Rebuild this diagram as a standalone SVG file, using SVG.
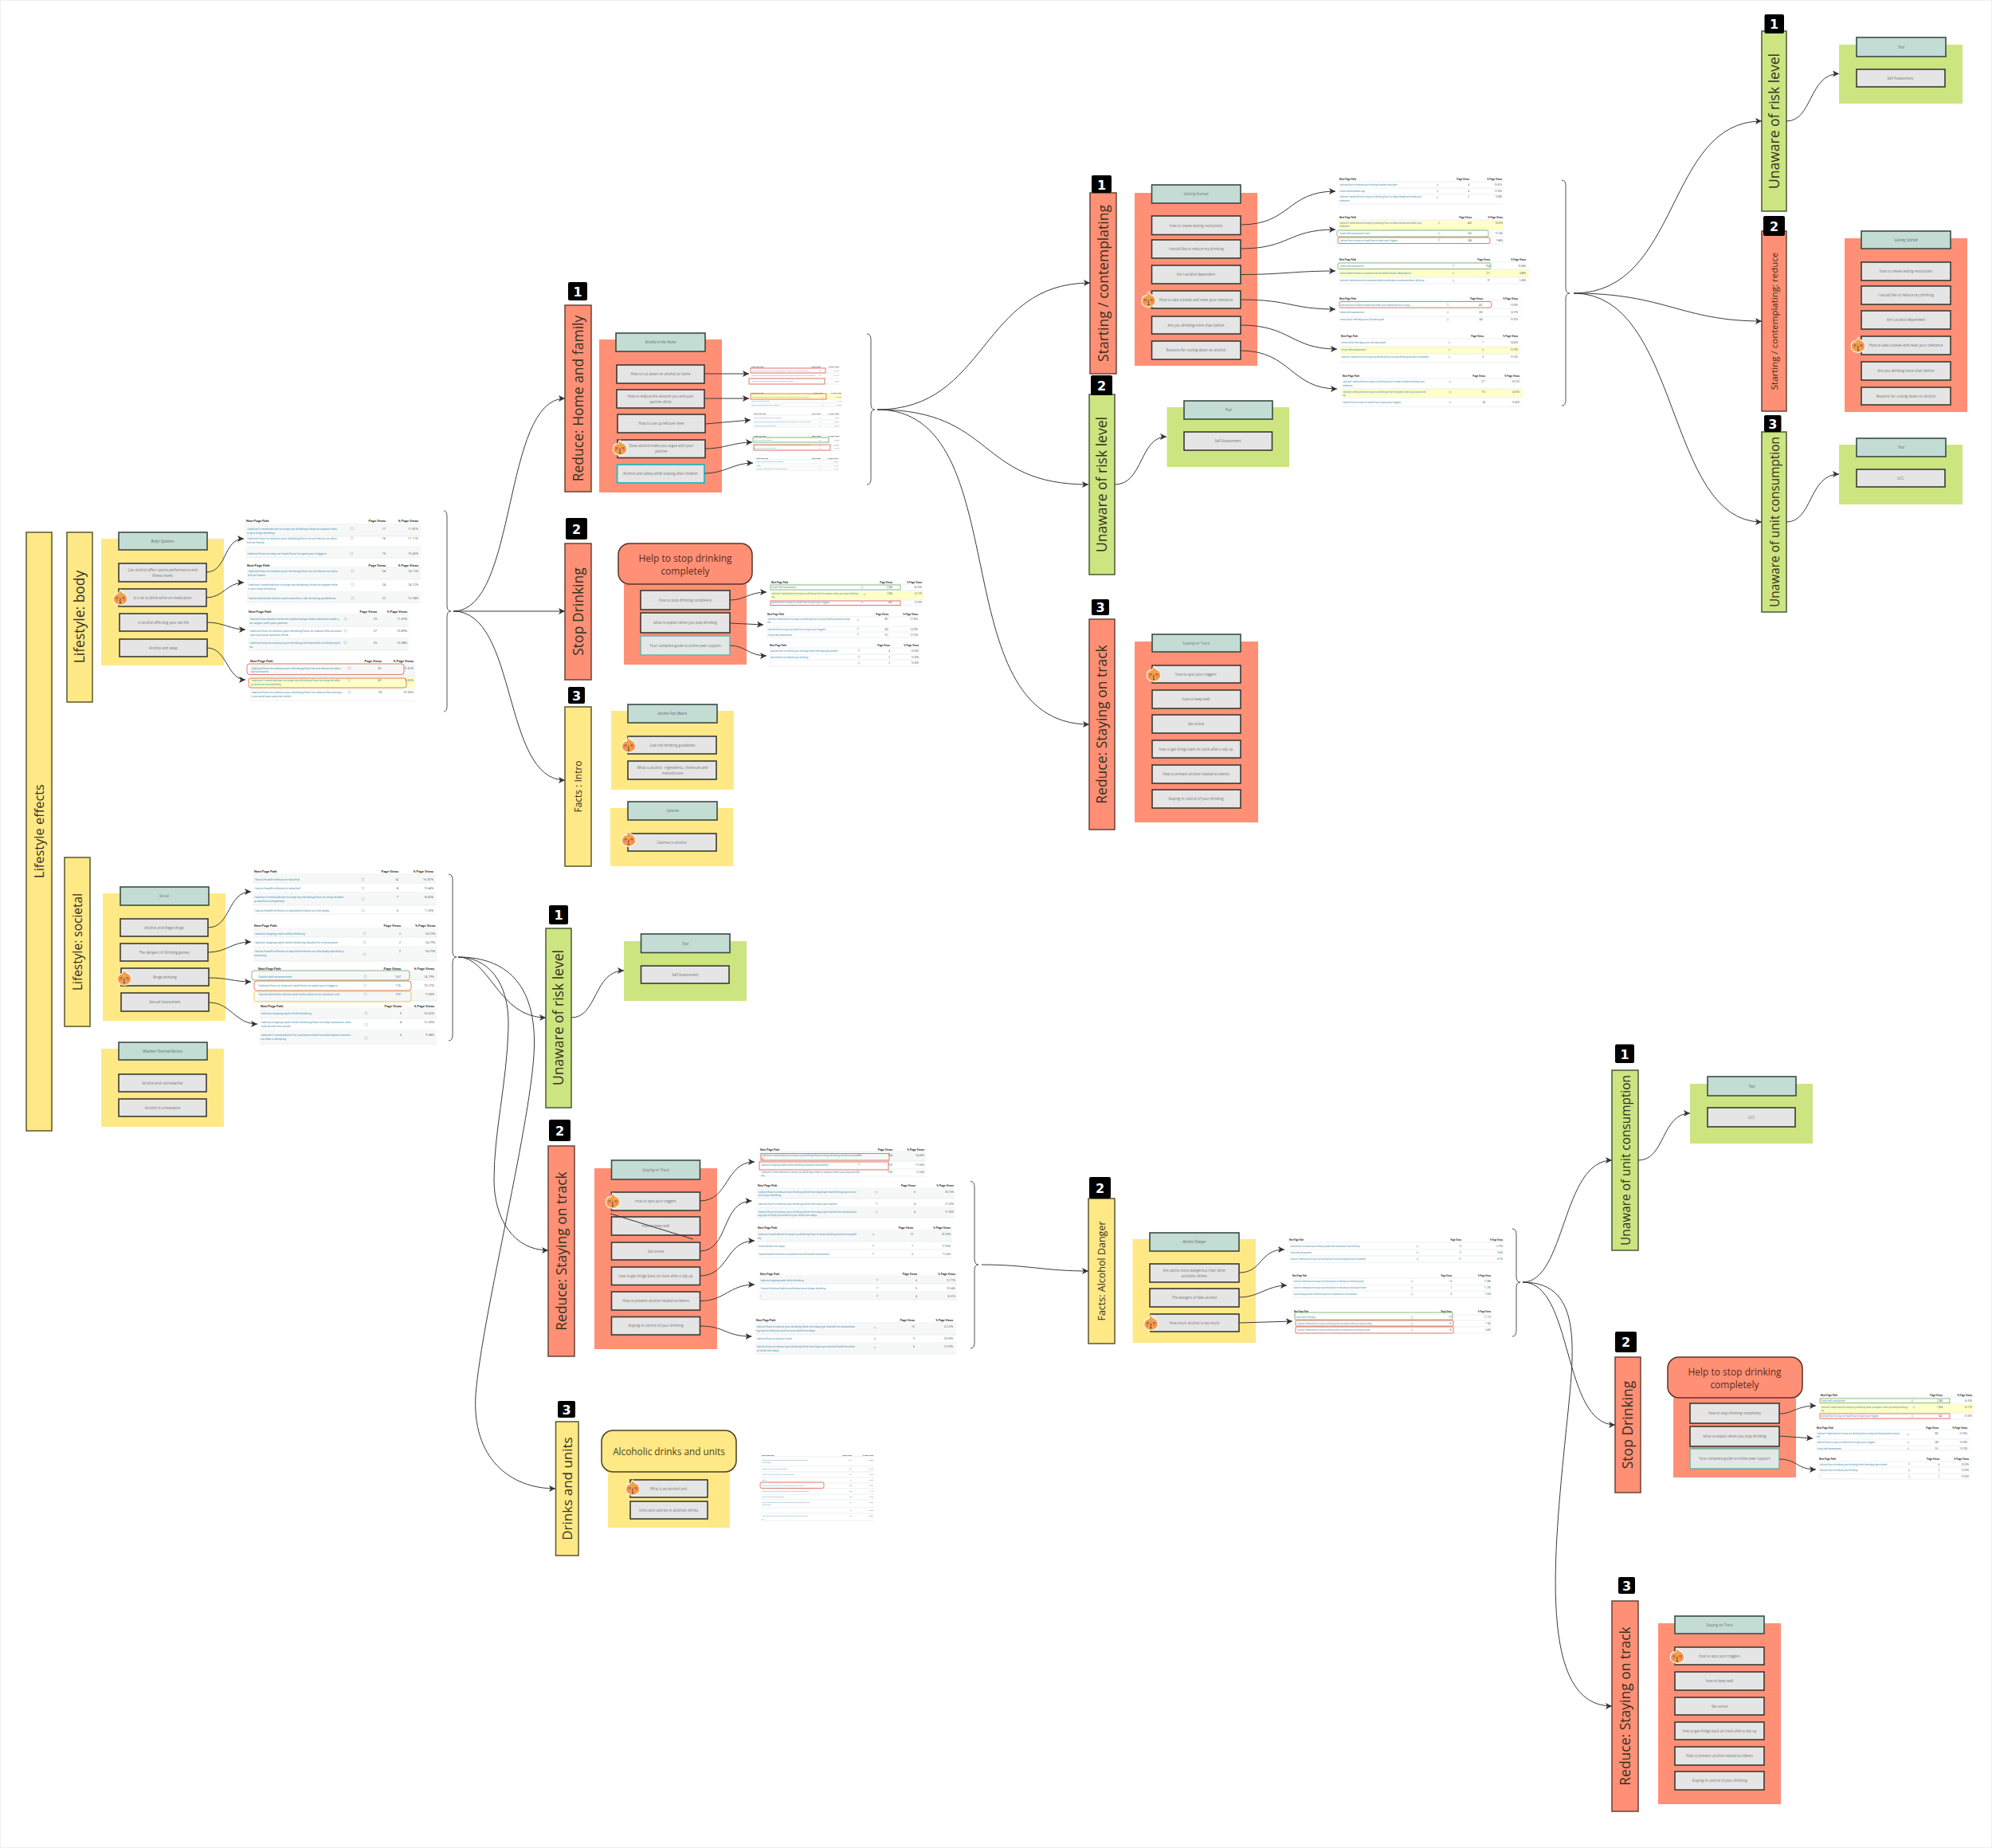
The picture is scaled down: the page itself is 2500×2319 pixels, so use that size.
<svg xmlns="http://www.w3.org/2000/svg" width="2500" height="2319" viewBox="0 0 2500 2319">
<style>
text{font-family:"Open Sans","Liberation Sans",sans-serif}
.sal{fill:#FF9076;stroke:#6a4236;stroke-width:1.5}
.yel{fill:#FFE986;stroke:#5b5530;stroke-width:1.5}
.grn{fill:#CCE581;stroke:#4a5a33;stroke-width:1.5}
.ps{fill:#FF9076}.py{fill:#FFE986}.pg{fill:#CCE581}
.hd{fill:#C3DDD5;stroke:#3c4a45;stroke-width:1.6}
.box{fill:#E5E5E5;stroke:#3d3a33;stroke-width:1.6}
.tbox{fill:#E2E8E6;stroke:#6fb5ab;stroke-width:1.6}
.cbox{fill:#E5E5E5;stroke:#3fb4bd;stroke-width:2}
.lab{font-size:17.5px;fill:#33301f;text-anchor:middle}
.u{font-size:16.4px}
.uc{font-size:15.4px}
.t{font-size:4.4px;fill:#777;text-anchor:middle}
.ti{font-size:4.4px;fill:#667;font-style:italic;text-anchor:middle}
.big{font-size:12px;text-anchor:middle;fill:#5c2a1c}
.bgd{fill:#000}
.bgt{font-family:"DejaVu Sans",sans-serif;font-weight:700;font-size:16px;fill:#fff;text-anchor:middle}
.c{fill:none;stroke:#3a3a3a;stroke-width:1;marker-end:url(#a)}
.br{fill:none;stroke:#555;stroke-width:1}
.th{font-family:Roboto,"Liberation Sans",sans-serif;font-weight:700;fill:#333}
.p{font-family:Roboto,"Liberation Sans",sans-serif;fill:#4a93b3}
.n{font-family:Roboto,"Liberation Sans",sans-serif;fill:#666;text-anchor:end}
.e{text-anchor:end}
.s42 text{font-size:4.1px}.s36 text{font-size:3.5px}.s30 text{font-size:3px}.s26 text{font-size:2.6px}.s22 text{font-size:2.2px}
.rule{fill:none;stroke:#dfe4e6;stroke-width:.6}
.z{fill:#f6f8f8}
.ic{fill:none;stroke:#aaa;stroke-width:.4}
.hr{fill:none;stroke:#e06c58;stroke-width:.9}
.hg{fill:none;stroke:#7cb56a;stroke-width:.9}
.hy{fill:none;stroke:#e8c53a;stroke-width:.9}
.yr{fill:#FFFFC8}
</style>
<defs>
<marker id="a" markerUnits="userSpaceOnUse" markerWidth="9" markerHeight="8" refX="8" refY="4" orient="auto"><path d="M0 0L8 4L0 8L2 4Z" fill="#333"/></marker>
<symbol id="f" viewBox="0 0 34 38"><path d="M17 0C19 6 23 7 26 9C31 13 34 18 34 23A17 15 0 0 1 0 23C0 17 3 13 7 10C9 11 11 10 13 8C14 6 16 3 17 0Z" fill="#fff"/><path d="M17 3C19 8 22 9 25 11C30 14 32 18 32 23A15 13 0 0 1 2 23C2 18 5 14 8 12C10 13 12 12 14 9C15 8 16 6 17 3Z" fill="#F5A04A"/><circle cx="9" cy="24" r="3.5" fill="#F27F63"/><circle cx="25" cy="24" r="3.5" fill="#F27F63"/><path d="M7 20h6M21 20h6M17 21v6h-2" fill="none" stroke="#333" stroke-width="1.4"/><ellipse cx="17" cy="31" rx="2" ry="1.5" fill="#333"/></symbol>
</defs>
<rect x="0" y="0" width="2500" height="2319" fill="#fff" stroke="#eeeeee" stroke-width="2"/>

<g id="lifestyle-effects"><rect class="yel" x="33" y="668" width="32" height="751"/><text class="lab u" transform="translate(49 1043) rotate(-90)" dy="6">Lifestyle effects</text></g>
<g id="lifestyle-body"><rect class="yel" x="84" y="668" width="32" height="213"/><text class="lab" transform="translate(100 774) rotate(-90)" dy="6">Lifestyle: body</text></g>
<g id="lifestyle-societal"><rect class="yel" x="81" y="1076" width="32" height="212"/><text class="lab" style="font-size:15.5px" transform="translate(97 1182) rotate(-90)" dy="6">Lifestyle: societal</text></g>

<g id="panel-body">
<rect class="py" x="127" y="676" width="154" height="159"/>
<rect class="hd" x="149" y="668" width="111" height="22"/><text class="ti" x="204" y="680.5">Body/ Systemic</text>
<rect class="box" x="149" y="707" width="110" height="23"/><text class="t" x="204" y="716.5">Can alcohol affect sports performance and</text><text class="t" x="204" y="723.5">fitness levels</text>
<rect class="box" x="149" y="739" width="110" height="22"/><text class="t" x="204" y="751.5">Is it ok to drink while on medication</text>
<rect class="box" x="150" y="770" width="110" height="22"/><text class="t" x="205" y="782.5">Is alcohol affecting your sex life</text>
<rect class="box" x="150" y="802" width="110" height="22"/><text class="t" x="205" y="814.5">Alcohol and sleep</text>
<use href="#f" x="141.5" y="739" width="19" height="21"/>
</g>
<g id="panel-social">
<rect class="py" x="129" y="1121" width="154" height="160"/>
<rect class="hd" x="151" y="1113" width="111" height="23"/><text class="t" x="206" y="1126">Social</text>
<rect class="box" x="151" y="1153" width="110" height="22"/><text class="t" x="206" y="1165.5">Alcohol and illegal drugs</text>
<rect class="box" x="151" y="1184" width="110" height="22"/><text class="t" x="206" y="1196.5">The dangers of drinking games</text>
<rect class="box" x="152" y="1215" width="110" height="22"/><text class="t" x="207" y="1227.5">Binge drinking</text>
<rect class="box" x="152" y="1246" width="110" height="23"/><text class="t" x="207" y="1259">Sexual harassment</text>
<use href="#f" x="146.5" y="1216" width="19" height="21"/>
</g>
<g id="panel-weather">
<rect class="py" x="127" y="1316" width="154" height="98"/>
<rect class="hd" x="149" y="1308" width="111" height="22"/><text class="ti" x="204" y="1320.5">Weather/ External Factors</text>
<rect class="box" x="149" y="1348" width="110" height="22"/><text class="t" x="204" y="1360.5">Alcohol and cold weather</text>
<rect class="box" x="149" y="1379" width="110" height="22"/><text class="t" x="204" y="1391.5">Alcohol in a heatwave</text>
</g>

<g id="tables-body" class="s42">
<path class="z" d="M308 659H528V673H308ZM308 687H528V700H308ZM310 713H528V727H310ZM310 744H528V756H310ZM312 772H513V786H312ZM312 802H513V816H312ZM314 834H521V849H314Z"/>
<path class="rule" d="M308 658H528M308 673H528M308 686H528M308 700H528M310 712H528M310 727H528M310 743H528M310 756H528M312 771H513M312 786H513M312 801H513M312 816H513M314 833H521M314 849H521M314 865H521M314 879H521"/>
<rect class="yr" x="314" y="850" width="207" height="14"/>
<path class="ic" d="M440 662h3v3h-3zM440 674h3v3h-3zM440 693h3v3h-3zM441 715h3v3h-3zM441 732h3v3h-3zM441 749h3v3h-3zM432 775h3v3h-3zM432 790h3v3h-3zM432 805h3v3h-3zM437 837h3v3h-3zM437 852h3v3h-3zM437 867h3v3h-3z"/>
<text class="th" x="309" y="655">Next Page Path</text><text class="th e" x="484" y="655">Page Views</text><text class="th e" x="525" y="655">% Page Views</text>
<text class="p" x="310" y="665">/advice/i-need-advice-to-stop-my-drinking/what-to-expect-whe</text><text class="p" x="310" y="669.5">n-you-stop-drinking</text><text class="n" x="484" y="665">17</text><text class="n" x="525" y="665">11.81%</text>
<text class="p" x="310" y="677">/advice/how-to-reduce-your-drinking/how-to-cut-down-on-alco</text><text class="p" x="310" y="681.5">hol-at-home</text><text class="n" x="484" y="677">16</text><text class="n" x="525" y="677">11.11%</text>
<text class="p" x="310" y="696">/advice/how-to-stay-on-track/how-to-spot-your-triggers</text><text class="n" x="484" y="696">15</text><text class="n" x="525" y="696">10.42%</text>
<text class="th" x="310" y="710.5">Next Page Path</text><text class="th e" x="484" y="710.5">Page Views</text><text class="th e" x="525" y="710.5">% Page Views</text>
<text class="p" x="311" y="718">/advice/how-to-reduce-your-drinking/how-to-cut-down-on-alco</text><text class="p" x="311" y="722.5">hol-at-home</text><text class="n" x="484" y="718">24</text><text class="n" x="525" y="718">14.12%</text>
<text class="p" x="311" y="735">/advice/i-need-advice-to-stop-my-drinking/what-to-expect-whe</text><text class="p" x="311" y="739.5">n-you-stop-drinking</text><text class="n" x="484" y="735">24</text><text class="n" x="525" y="735">14.12%</text>
<text class="p" x="311" y="752">/facts/alcoholic-drinks-and-units/low-risk-drinking-guidelines</text><text class="n" x="484" y="752">22</text><text class="n" x="525" y="752">12.94%</text>
<text class="th" x="312" y="769">Next Page Path</text><text class="th e" x="473" y="769">Page Views</text><text class="th e" x="511" y="769">% Page Views</text>
<text class="p" x="313" y="778">/facts/how-alcohol-affects-relationships/does-alcohol-make-y</text><text class="p" x="313" y="782.5">ou-argue-with-your-partner</text><text class="n" x="473" y="778">29</text><text class="n" x="511" y="778">11.69%</text>
<text class="p" x="313" y="793">/advice/how-to-reduce-your-drinking/how-to-reduce-the-amount</text><text class="p" x="313" y="797.5">-you-and-your-partner-drink</text><text class="n" x="473" y="793">27</text><text class="n" x="511" y="793">10.89%</text>
<text class="p" x="313" y="808">/advice/how-to-reduce-your-drinking/the-benefits-of-drinking-le</text><text class="p" x="313" y="812.5">ss</text><text class="n" x="473" y="808">25</text><text class="n" x="511" y="808">10.08%</text>
<text class="th" x="314" y="831">Next Page Path</text><text class="th e" x="479" y="831">Page Views</text><text class="th e" x="519" y="831">% Page Views</text>
<text class="p" x="315" y="839.5">/advice/how-to-reduce-your-drinking/how-to-cut-down-on-alco</text><text class="p" x="315" y="844">hol-at-home</text><text class="n" x="479" y="839.5">81</text><text class="n" x="519" y="839.5">9.52%</text>
<text class="p" x="315" y="855">/advice/i-need-advice-to-stop-my-drinking/how-to-stop-drinkin</text><text class="p" x="315" y="859.5">g-alcohol-completely</text><text class="n" x="479" y="855">81</text><text class="n" x="519" y="855">9.52%</text>
<text class="p" x="315" y="870">/advice/how-to-reduce-your-drinking/how-to-reduce-the-amoun</text><text class="p" x="315" y="874.5">t-you-and-your-partner-drink</text><text class="n" x="479" y="870">78</text><text class="n" x="519" y="870">10.96%</text>
<rect class="hr" x="310" y="833" width="197" height="13.5" rx="3"/><rect class="hr" x="312" y="851" width="198" height="12" rx="3"/>
</g>

<g id="tables-social" class="s42">
<path class="z" d="M317 1098H547V1108H317ZM317 1121H547V1136H317ZM318 1166H549V1176H318ZM318 1189H549V1206H318ZM323 1219H549V1230H323ZM323 1244H549V1256H323ZM326 1266H548V1278H326ZM326 1294H548V1310H326Z"/>
<path class="rule" d="M317 1097H547M317 1108H547M317 1120H547M317 1136H547M317 1147H547M318 1165H549M318 1176H549M318 1188H549M318 1206H549M323 1218H549M323 1230H549M323 1243H549M323 1256H549M326 1265H548M326 1278H548M326 1293H548M326 1310H548"/>
<path class="ic" d="M454 1102h3v3h-3zM454 1113h3v3h-3zM454 1127h3v3h-3zM454 1141h3v3h-3zM456 1170h3v3h-3zM456 1181h3v3h-3zM456 1196h3v3h-3zM457 1224h3v3h-3zM457 1235h3v3h-3zM457 1246h3v3h-3zM458 1270h3v3h-3zM458 1284h3v3h-3zM458 1301h3v3h-3z"/>
<text class="th" x="319" y="1095">Next Page Path</text><text class="th e" x="500" y="1095">Page Views</text><text class="th e" x="544" y="1095">% Page Views</text>
<text class="p" x="319" y="1104.5">/facts/health-effects-of-alcohol</text><text class="n" x="500" y="1104.5">14</text><text class="n" x="544" y="1104.5">16.87%</text>
<text class="p" x="319" y="1115.5">/facts/health-effects-of-alcohol/</text><text class="n" x="500" y="1115.5">8</text><text class="n" x="544" y="1115.5">9.64%</text>
<text class="p" x="319" y="1127">/advice/i-need-advice-to-stop-my-drinking/how-to-stop-drinkin</text><text class="p" x="319" y="1132">g-alcohol-completely</text><text class="n" x="500" y="1127">7</text><text class="n" x="544" y="1127">8.43%</text>
<text class="p" x="319" y="1143.5">/facts/health-effects-of-alcohol/effects-on-the-body</text><text class="n" x="500" y="1143.5">6</text><text class="n" x="544" y="1143.5">7.23%</text>
<text class="th" x="319" y="1163">Next Page Path</text><text class="th e" x="503" y="1163">Page Views</text><text class="th e" x="546.5" y="1163">% Page Views</text>
<text class="p" x="319" y="1172.5">/advice/staying-safe-while-drinking</text><text class="n" x="503" y="1172.5">2</text><text class="n" x="546.5" y="1172.5">14.29%</text>
<text class="p" x="319" y="1183.5">/advice/staying-safe-while-drinking/alcohol-in-a-heatwave</text><text class="n" x="503" y="1183.5">2</text><text class="n" x="546.5" y="1183.5">14.29%</text>
<text class="p" x="319" y="1195">/facts/health-effects-of-alcohol/effects-on-the-body/alcohol-p</text><text class="p" x="319" y="1200">oisoning</text><text class="n" x="503" y="1195">2</text><text class="n" x="546.5" y="1195">14.29%</text>
<text class="th" x="324" y="1217">Next Page Path</text><text class="th e" x="503" y="1217">Page Views</text><text class="th e" x="545" y="1217">% Page Views</text>
<text class="p" x="324" y="1226.5">/tools/self-assessment</text><text class="n" x="503" y="1226.5">167</text><text class="n" x="545" y="1226.5">14.79%</text>
<text class="p" x="324" y="1237.5">/advice/how-to-stay-on-track/how-to-spot-your-triggers</text><text class="n" x="503" y="1237.5">116</text><text class="n" x="545" y="1237.5">10.27%</text>
<text class="p" x="324" y="1249">/facts/alcoholic-drinks-and-units/what-is-an-alcohol-unit</text><text class="n" x="503" y="1249">102</text><text class="n" x="545" y="1249">9.03%</text>
<rect class="hg" x="316" y="1218" width="198" height="12" rx="3"/><rect class="hr" x="319" y="1231" width="197" height="12" rx="3"/><rect class="hy" x="319" y="1244" width="197" height="13" rx="3"/>
<text class="th" x="327" y="1264">Next Page Path</text><text class="th e" x="504" y="1264">Page Views</text><text class="th e" x="545" y="1264">% Page Views</text>
<text class="p" x="327" y="1273">/advice/staying-safe-while-drinking</text><text class="n" x="504" y="1273">5</text><text class="n" x="545" y="1273">15.62%</text>
<text class="p" x="327" y="1284">/advice/staying-safe-while-drinking/how-to-help-someone-who</text><text class="p" x="327" y="1289">-has-drunk-too-much</text><text class="n" x="504" y="1284">4</text><text class="n" x="545" y="1284">12.50%</text>
<text class="p" x="327" y="1300">/advice/i-need-advice-for-someone-else/worried-about-someo</text><text class="p" x="327" y="1305">ne-else-s-drinking</text><text class="n" x="504" y="1300">3</text><text class="n" x="545" y="1300">9.38%</text>
</g>

<g id="reduce-home"><rect class="sal" x="709" y="383" width="33" height="234"/><text class="lab" transform="translate(725.5 500) rotate(-90)" dy="6">Reduce: Home and family</text><rect class="bgd" x="713" y="354" width="24" height="23" rx="2"/><text class="bgt" x="725" y="371.5">1</text></g>
<g id="panel-home">
<rect class="ps" x="752" y="426" width="154" height="192"/>
<rect class="hd" x="773" y="418" width="112" height="23"/><text class="ti" x="829" y="431">Alcohol in the Home</text>
<rect class="box" x="774" y="458" width="110" height="23"/><text class="t" x="829" y="471">How to cut down on alcohol at home</text>
<rect class="box" x="774" y="489" width="110" height="23"/><text class="t" x="829" y="498.5">How to reduce the amount you and your</text><text class="t" x="829" y="505.5">partner drink</text>
<rect class="box" x="775" y="520" width="110" height="23"/><text class="t" x="830" y="533">How to use up leftover wine</text>
<rect class="box" x="775" y="552" width="110" height="22.5"/><text class="t" x="830" y="561">Does alcohol make you argue with your</text><text class="t" x="830" y="568">partner</text>
<rect class="cbox" x="774.5" y="583" width="109.5" height="23"/><text class="t" x="829" y="596">Alcohol and safety while looking after children</text>
<use href="#f" x="768.5" y="551" width="19" height="21"/>
</g>
<g id="tables-home" class="s22">
<path class="rule" d="M942 462H1053M942 468H1053M942 475H1053M942 482H1053M942 495H1056M942 501H1056M942 506H1056M942 510H1056M945 521H1053M945 527H1053M945 532H1053M945 536H1053M945 549H1053M945 555H1053M945 560H1053M945 565H1053M948 577H1052M948 582H1052M948 586H1052M948 590H1052"/>
<rect class="yr" x="942" y="494" width="114" height="7"/>
<text class="th" x="943" y="461">Next Page Path</text><text class="th e" x="1030" y="461">Page Views</text><text class="th e" x="1053" y="461">% Page Views</text>
<text class="p" x="943" y="466">/advice/how-to-reduce-your-drinking/how-to-cut-down-on-alcohol-at-home</text><text class="n" x="1030" y="466">26</text><text class="n" x="1053" y="466">14.61%</text>
<text class="p" x="943" y="472">/advice/i-need-advice-to-stop-my-drinking/how-to-stop-drinking-alcohol-completely</text><text class="n" x="1030" y="472">18</text><text class="n" x="1053" y="472">10.11%</text>
<text class="p" x="943" y="479">/advice/how-to-stay-on-track/how-to-spot-your-triggers</text><text class="n" x="1030" y="479">11</text><text class="n" x="1053" y="479">6.18%</text>
<text class="th" x="943" y="494">Next Page Path</text><text class="th e" x="1033" y="494">Page Views</text><text class="th e" x="1056" y="494">% Page Views</text>
<text class="p" x="943" y="498.5">/advice/how-to-reduce-your-drinking/how-to-cut-down-on-alcohol-at-home</text><text class="n" x="1033" y="498.5">16</text><text class="n" x="1056" y="498.5">16.33%</text>
<text class="p" x="943" y="504">/tools/self-assessment</text><text class="n" x="1033" y="504">7</text><text class="n" x="1056" y="504">7.14%</text>
<text class="p" x="943" y="509">/advice/how-to-reduce-your-drinking</text><text class="n" x="1033" y="509">5</text><text class="n" x="1056" y="509">5.10%</text>
<text class="th" x="946" y="520">Next Page Path</text><text class="th e" x="1030" y="520">Page Views</text><text class="th e" x="1053" y="520">% Page Views</text>
<text class="p" x="946" y="525">/advice/staying-safe-while-drinking</text><text class="n" x="1030" y="525">3</text><text class="n" x="1053" y="525">7.69%</text>
<text class="p" x="946" y="530">/advice/how-to-reduce-your-drinking/how-to-cut-down-on-alcohol-at-home</text><text class="n" x="1030" y="530">3</text><text class="n" x="1053" y="530">7.69%</text>
<text class="p" x="946" y="535">/advice/how-to-stay-on-track</text><text class="n" x="1030" y="535">2</text><text class="n" x="1053" y="535">5.13%</text>
<text class="th" x="946" y="548">Next Page Path</text><text class="th e" x="1030" y="548">Page Views</text><text class="th e" x="1053" y="548">% Page Views</text>
<text class="p" x="946" y="553">/tools/self-assessment</text><text class="n" x="1030" y="553">40</text><text class="n" x="1053" y="553">14.08%</text>
<text class="p" x="946" y="559">/advice/how-to-reduce-your-drinking/how-to-cut-down-on-alcohol-at-home</text><text class="n" x="1030" y="559">30</text><text class="n" x="1053" y="559">10.56%</text>
<text class="p" x="946" y="563">/advice/how-to-stay-on-track</text><text class="n" x="1030" y="563">18</text><text class="n" x="1053" y="563">6.34%</text>
<text class="th" x="949" y="576">Next Page Path</text><text class="th e" x="1030" y="576">Page Views</text><text class="th e" x="1052" y="576">% Page Views</text>
<text class="p" x="949" y="580">/advice/staying-safe-while-drinking</text><text class="n" x="1030" y="580">4</text><text class="n" x="1052" y="580">9.52%</text>
<text class="p" x="949" y="585">/facts</text><text class="n" x="1030" y="585">3</text><text class="n" x="1052" y="585">7.14%</text>
<text class="p" x="949" y="589">/advice/i-need-advice-for-someone-else</text><text class="n" x="1030" y="589">3</text><text class="n" x="1052" y="589">7.14%</text>
<rect class="hr" x="942" y="462" width="94" height="6"/><rect class="hr" x="940" y="475" width="95" height="7"/><rect class="hr" x="942" y="494" width="95" height="7"/><rect class="hg" x="945" y="549" width="95" height="6"/><rect class="hr" x="946" y="558" width="96" height="7"/>
</g>

<g id="stop-drinking-1"><rect class="sal" x="709" y="682" width="33" height="171"/><text class="lab" transform="translate(725.5 767.5) rotate(-90)" dy="6">Stop Drinking</text><rect class="bgd" x="710" y="650" width="27" height="27" rx="2"/><text class="bgt" x="723.5" y="669.5">2</text></g>
<g id="panel-stop-1">
<rect class="ps" x="783" y="733" width="154" height="101"/>
<rect x="776" y="682" width="168" height="51" rx="14" fill="#FF9076" stroke="#5c3226" stroke-width="1.5"/><text class="big" x="860" y="704.5">Help to stop drinking</text><text class="big" x="860" y="721">completely</text>
<rect class="box" x="804" y="741" width="112" height="24"/><text class="t" x="860" y="754.5">how to stop drinking completely</text>
<rect class="box" x="804" y="769" width="112" height="25"/><text class="t" x="860" y="783">what to expect when you stop drinking</text>
<rect class="tbox" x="804" y="798" width="112" height="24"/><text class="t" x="860" y="811.5">Your complete guide to online peer support</text>
</g>
<g id="tables-stop-1" class="s30">
<rect class="yr" x="967" y="742" width="192" height="10"/>
<path class="rule" d="M967 733H1159M967 741H1159M967 753H1159M967 760H1159M962 774H1153M962 786H1153M962 793H1153M962 800H1153M965 813H1155M965 821H1155M965 828H1155M965 836H1155"/>
<path class="ic" d="M1081 736h2v2h-2zM1084 745h2v2h-2zM1081 755h2v2h-2zM1076 777h2v2h-2zM1076 788h2v2h-2zM1076 795h2v2h-2zM1077 815h2v2h-2zM1077 823h2v2h-2zM1077 831h2v2h-2z"/>
<text class="th" x="968" y="731.5">Next Page Path</text><text class="th e" x="1120" y="731.5">Page Views</text><text class="th e" x="1157" y="731.5">% Page Views</text>
<text class="p" x="968" y="738">/tools/self-assessment</text><text class="n" x="1120" y="738">2,284</text><text class="n" x="1157" y="738">36.35%</text>
<text class="p" x="968" y="746">/advice/i-need-advice-to-stop-my-drinking/what-to-expect-when-you-stop-drinking/</text><text class="p" x="968" y="750">ing</text><text class="n" x="1120" y="746">1,094</text><text class="n" x="1157" y="746">16.17%</text>
<text class="p" x="968" y="757">/advice/how-to-stay-on-track/how-to-spot-your-triggers</text><text class="n" x="1120" y="757">642</text><text class="n" x="1157" y="757">10.30%</text>
<text class="th" x="963" y="772">Next Page Path</text><text class="th e" x="1115" y="772">Page Views</text><text class="th e" x="1152" y="772">% Page Views</text>
<text class="p" x="963" y="778">/advice/i-need-advice-to-stop-my-drinking/how-to-stop-drinking-alcohol-compl</text><text class="p" x="963" y="782">ete</text><text class="n" x="1115" y="778">381</text><text class="n" x="1152" y="778">22.96%</text>
<text class="p" x="963" y="790.5">/advice/how-to-stay-on-track/how-to-spot-your-triggers</text><text class="n" x="1115" y="790.5">240</text><text class="n" x="1152" y="790.5">14.78%</text>
<text class="p" x="963" y="798">/tools/self-assessment</text><text class="n" x="1115" y="798">161</text><text class="n" x="1152" y="798">10.10%</text>
<text class="th" x="966" y="811">Next Page Path</text><text class="th e" x="1117" y="811">Page Views</text><text class="th e" x="1153" y="811">% Page Views</text>
<text class="p" x="966" y="818">/advice/how-to-reduce-your-drinking/drink-free-days/get-started</text><text class="n" x="1117" y="818">4</text><text class="n" x="1153" y="818">20.00%</text>
<text class="p" x="966" y="825.5">/advice/how-to-reduce-your-drinking</text><text class="n" x="1117" y="825.5">3</text><text class="n" x="1153" y="825.5">15.00%</text>
<text class="p" x="966" y="833">/</text><text class="n" x="1117" y="833">2</text><text class="n" x="1153" y="833">10.00%</text>
<rect class="hg" x="967" y="734" width="163" height="6"/><rect class="hr" x="967" y="754" width="163" height="5.5"/>
</g>

<g id="facts-intro"><rect class="yel" x="709" y="887" width="33" height="200"/><text class="lab" style="font-size:12px" transform="translate(725.5 987) rotate(-90)" dy="4.5">Facts : Intro</text><rect class="bgd" x="713" y="862" width="21" height="21" rx="2"/><text class="bgt" x="723.5" y="878.5">3</text></g>
<g id="panel-facts-basics">
<rect class="py" x="767" y="892" width="154" height="99"/>
<rect class="hd" x="788" y="884" width="112" height="23"/><text class="ti" x="844" y="897">Alcohol Fact Basics</text>
<rect class="box" x="788" y="924" width="111" height="22"/><text class="t" x="844" y="936.5">Low risk drinking guidelines</text>
<rect class="box" x="788" y="955" width="111" height="23"/><text class="t" x="844" y="964.5">What is alcohol - ingredients, chemicals and</text><text class="t" x="844" y="971.5">manufacture</text>
<use href="#f" x="779.5" y="924" width="19" height="21"/>
</g>
<g id="panel-calories">
<rect class="py" x="766" y="1014" width="154" height="73"/>
<rect class="hd" x="788" y="1006" width="112" height="23"/><text class="ti" x="844" y="1019">Calories</text>
<rect class="box" x="788" y="1046" width="111" height="22"/><text class="t" x="843" y="1058.5">Calories in alcohol</text>
<use href="#f" x="779.5" y="1042" width="19" height="21"/>
</g>

<g id="starting-1"><rect class="sal" x="1368" y="242" width="33" height="227"/><text class="lab" transform="translate(1384.5 355.5) rotate(-90)" dy="6">Starting / contemplating</text><rect class="bgd" x="1370" y="220" width="25" height="22" rx="2"/><text class="bgt" x="1382.5" y="237.5">1</text></g>
<g id="panel-getting-started">
<rect class="ps" x="1424" y="242" width="154" height="217"/>
<rect class="hd" x="1445.5" y="232" width="111.5" height="23"/><text class="t" x="1501" y="245">Getting Started</text>
<rect class="box" x="1445.5" y="271" width="111.5" height="23.5"/><text class="t" x="1501" y="284.5">how to create lasting resolutions</text>
<rect class="box" x="1445.5" y="301" width="111.5" height="23"/><text class="t" x="1501" y="314">I would like to reduce my drinking</text>
<rect class="box" x="1445.5" y="333" width="111.5" height="23"/><text class="t" x="1501" y="346">Am I alcohol dependent</text>
<rect class="box" x="1445.5" y="365" width="111.5" height="22"/><text class="t" x="1501" y="377.5">How to take a break and reset your tolerance</text>
<rect class="box" x="1445.5" y="397" width="111.5" height="22"/><text class="t" x="1501" y="409.5">Are you drinking more than before</text>
<rect class="box" x="1445.5" y="428" width="111.5" height="23"/><text class="t" x="1501" y="441">Reasons for cutting down on alcohol</text>
<use href="#f" x="1432" y="365" width="19" height="21"/>
</g>
<g id="tables-starting" class="s30">
<rect class="yr" x="1680" y="277" width="207" height="11"/><rect class="yr" x="1680" y="338.5" width="239" height="9"/><rect class="yr" x="1682" y="435" width="226" height="9"/><rect class="yr" x="1684" y="488" width="227" height="10"/>
<path class="rule" d="M1680 228H1887M1680 236H1887M1680 244H1887M1680 256H1887M1680 276H1887M1680 289H1887M1680 297H1887M1680 306H1887M1680 329H1919M1680 338H1919M1680 348H1919M1680 356H1919M1680 377H1909M1680 387H1909M1680 397H1909M1682 425H1908M1682 435H1908M1682 444H1908M1682 455H1908M1684 475H1911M1684 488H1911M1684 499H1911M1684 510H1911"/>
<path class="ic" d="M1803 231h2v2h-2zM1803 239h2v2h-2zM1803 247h2v2h-2zM1805 279h2v2h-2zM1805 292h2v2h-2zM1805 300h2v2h-2zM1823 332h2v2h-2zM1823 342h2v2h-2zM1823 351h2v2h-2zM1816 381h2v2h-2zM1816 391h2v2h-2zM1816 400h2v2h-2zM1818 429h2v2h-2zM1818 438h2v2h-2zM1818 447h2v2h-2zM1819 478h2v2h-2zM1819 491h2v2h-2zM1819 504h2v2h-2z"/>
<text class="th" x="1681" y="226">Next Page Path</text><text class="th e" x="1844" y="226">Page Views</text><text class="th e" x="1885" y="226">% Page Views</text>
<text class="p" x="1681" y="233">/advice/how-to-reduce-your-drinking/tracker-calculator</text><text class="n" x="1844" y="233">4</text><text class="n" x="1885" y="233">25.81%</text>
<text class="p" x="1681" y="241">/tools/drinkchecker-app</text><text class="n" x="1844" y="241">4</text><text class="n" x="1885" y="241">12.90%</text>
<text class="p" x="1681" y="248">/advice/i-need-advice-to-stop-my-drinking/how-to-take-a-break-and-reset-your-</text><text class="p" x="1681" y="252.5">tolerance</text><text class="n" x="1844" y="248">3</text><text class="n" x="1885" y="248">9.68%</text>
<text class="th" x="1681" y="274">Next Page Path</text><text class="th e" x="1847" y="274">Page Views</text><text class="th e" x="1886" y="274">% Page Views</text>
<text class="p" x="1681" y="280.5">/advice/i-need-advice-to-stop-my-drinking/how-to-take-a-break-and-reset-your-</text><text class="p" x="1681" y="285">tolerance</text><text class="n" x="1847" y="280.5">465</text><text class="n" x="1886" y="280.5">18.09%</text>
<text class="p" x="1681" y="294">/tools/self-assessment/user</text><text class="n" x="1847" y="294">265</text><text class="n" x="1886" y="294">10.14%</text>
<text class="p" x="1681" y="302.5">/advice/how-to-stay-on-track/how-to-spot-your-triggers</text><text class="n" x="1847" y="302.5">248</text><text class="n" x="1886" y="302.5">9.88%</text>
<rect class="hg" x="1678" y="289" width="190" height="8" rx="2"/><rect class="hr" x="1679" y="298" width="191" height="7.5" rx="2"/>
<g class="s36"><text class="th" x="1681" y="327">Next Page Path</text><text class="th e" x="1870" y="327">Page Views</text><text class="th e" x="1915" y="327">% Page Views</text>
<text class="p" x="1681" y="334.5">/tools/self-assessment</text><text class="n" x="1870" y="334.5">994</text><text class="n" x="1915" y="334.5">30.04%</text>
<text class="p" x="1681" y="344">/facts/health-effects-of-alcohol/mental-health/alcohol-dependence</text><text class="n" x="1870" y="344">121</text><text class="n" x="1915" y="344">4.88%</text>
<text class="p" x="1681" y="353">/advice/i-need-advice-for-someone-else/worried-about-someone-else-s-drinking</text><text class="n" x="1870" y="353">57</text><text class="n" x="1915" y="353">5.58%</text></g>
<rect class="hg" x="1679" y="330" width="192" height="7.5" rx="2"/>
<text class="th" x="1681" y="375.5">Next Page Path</text><text class="th e" x="1861" y="375.5">Page Views</text><text class="th e" x="1905" y="375.5">% Page Views</text>
<text class="p" x="1682" y="383.5">/advice/how-to-take-a-break-and-reset-your-tolerance/how-to-stay</text><text class="n" x="1861" y="383.5">451</text><text class="n" x="1905" y="383.5">19.06%</text>
<text class="p" x="1681" y="393">/tools/self-assessment</text><text class="n" x="1861" y="393">350</text><text class="n" x="1905" y="393">14.73%</text>
<text class="p" x="1681" y="402">/news/drink-free-days-your-ultimate-guide</text><text class="n" x="1861" y="402">245</text><text class="n" x="1905" y="402">10.92%</text>
<rect class="hr" x="1681" y="378.5" width="191" height="7.5" rx="2"/>
<text class="th" x="1683" y="423">Next Page Path</text><text class="th e" x="1862" y="423">Page Views</text><text class="th e" x="1905" y="423">% Page Views</text>
<text class="p" x="1683" y="431">/news/drink-free-days-your-ultimate-guide</text><text class="n" x="1862" y="431">7</text><text class="n" x="1905" y="431">18.42%</text>
<text class="p" x="1683" y="440">/tools/self-assessment</text><text class="n" x="1862" y="440">6</text><text class="n" x="1905" y="440">15.79%</text>
<text class="p" x="1683" y="449">/advice/i-need-advice-to-stop-my-drinking/how-to-stop-drinking-alcohol-completely</text><text class="n" x="1862" y="449">5</text><text class="n" x="1905" y="449">13.16%</text>
<text class="th" x="1685" y="472.5">Next Page Path</text><text class="th e" x="1864" y="472.5">Page Views</text><text class="th e" x="1907" y="472.5">% Page Views</text>
<text class="p" x="1685" y="480">/advice/i-need-advice-to-stop-my-drinking/how-to-take-a-break-and-reset-your-</text><text class="p" x="1685" y="484.5">tolerance</text><text class="n" x="1864" y="480">217</text><text class="n" x="1907" y="480">28.22%</text>
<text class="p" x="1685" y="493">/advice/i-need-advice-to-stop-my-drinking/what-to-expect-when-you-stop-drinki</text><text class="p" x="1685" y="497">ng</text><text class="n" x="1864" y="493">115</text><text class="n" x="1907" y="493">14.92%</text>
<text class="p" x="1685" y="506">/advice/how-to-stay-on-track/how-to-spot-your-triggers</text><text class="n" x="1864" y="506">80</text><text class="n" x="1907" y="506">10.42%</text>
</g>

<g id="unaware-risk-2"><rect class="grn" x="1367" y="495" width="32" height="226"/><text class="lab" transform="translate(1383 608) rotate(-90)" dy="6">Unaware of risk level</text><rect class="bgd" x="1369" y="471" width="27" height="25" rx="2"/><text class="bgt" x="1382.5" y="489.5">2</text></g>
<g id="panel-tool-a"><rect class="pg" x="1464.5" y="511" width="153.5" height="75"/>
<rect class="hd" x="1486" y="503" width="111" height="23"/><text class="ti" x="1541.5" y="516">Tool</text>
<rect class="box" x="1486" y="542" width="110.5" height="23"/><text class="t" x="1541" y="555">Self Assessment</text></g>

<g id="staying-a"><rect class="sal" x="1367" y="777" width="32" height="264"/><text class="lab" transform="translate(1383 909) rotate(-90)" dy="6">Reduce: Staying on track</text><rect class="bgd" x="1370" y="752" width="22" height="20" rx="2"/><text class="bgt" x="1381" y="768">3</text></g>
<g id="panel-staying-a">
<rect class="ps" x="1424" y="805" width="155" height="227"/>
<rect class="hd" x="1446" y="796" width="111" height="22"/><text class="t" x="1501" y="808.5">Staying on Track</text>
<rect class="box" x="1446" y="835" width="111" height="22"/><text class="t" x="1501" y="847.5">how to spot your triggers</text>
<rect class="box" x="1446" y="866" width="111" height="23"/><text class="t" x="1501" y="879">how to keep well</text>
<rect class="box" x="1446" y="897" width="111" height="23"/><text class="t" x="1501" y="910">Get active</text>
<rect class="box" x="1446" y="929" width="111" height="22"/><text class="t" x="1501" y="941.5">how to get things back on track after a slip up</text>
<rect class="box" x="1446" y="960" width="111" height="23"/><text class="t" x="1501" y="973">How to prevent alcohol related accidents</text>
<rect class="box" x="1446" y="991" width="111" height="23"/><text class="t" x="1501" y="1004">Staying in control of your drinking</text>
<use href="#f" x="1438.5" y="835" width="19" height="21"/>
</g>

<g id="unaware-risk-1"><rect class="grn" x="2211" y="39" width="31" height="226"/><text class="lab" transform="translate(2226.5 152) rotate(-90)" dy="6">Unaware of risk level</text><rect class="bgd" x="2214.5" y="18" width="24.5" height="24" rx="2"/><text class="bgt" x="2226.5" y="36">1</text></g>
<g id="panel-tool-b"><rect class="pg" x="2308" y="56" width="155" height="74"/>
<rect class="hd" x="2330" y="47" width="112" height="24"/><text class="ti" x="2386" y="60.5">Tool</text>
<rect class="box" x="2330" y="87" width="111" height="22"/><text class="t" x="2385" y="99.5">Self Assessment</text></g>
<g id="starting-reduce"><rect class="sal" x="2211" y="290" width="31" height="226"/><text class="lab" style="font-size:11.5px" transform="translate(2226.5 403) rotate(-90)" dy="4">Starting / contemplating: reduce</text><rect class="bgd" x="2213" y="271" width="27" height="25" rx="2"/><text class="bgt" x="2226.5" y="289.5">2</text></g>
<g id="panel-getting-started-b">
<rect class="ps" x="2315" y="299" width="154" height="218"/>
<rect class="hd" x="2336" y="290" width="112" height="22"/><text class="ti" x="2392" y="302.5">Getting Started</text>
<rect class="box" x="2336" y="329" width="112" height="23"/><text class="t" x="2392" y="342">how to create lasting resolutions</text>
<rect class="box" x="2336" y="359" width="112" height="23"/><text class="t" x="2392" y="372">I would like to reduce my drinking</text>
<rect class="box" x="2336" y="390" width="112" height="23"/><text class="t" x="2392" y="403">Am I alcohol dependent</text>
<rect class="box" x="2336" y="422" width="112" height="23"/><text class="t" x="2392" y="435">How to take a break and reset your tolerance</text>
<rect class="box" x="2336" y="454" width="112" height="23"/><text class="t" x="2392" y="467">Are you drinking more than before</text>
<rect class="box" x="2336" y="486" width="112" height="22"/><text class="t" x="2392" y="498.5">Reasons for cutting down on alcohol</text>
<use href="#f" x="2322.5" y="422" width="19" height="21"/>
</g>
<g id="unaware-unit-1"><rect class="grn" x="2211" y="542" width="31" height="226"/><text class="lab uc" transform="translate(2226.5 655) rotate(-90)" dy="6">Unaware of unit consumption</text><rect class="bgd" x="2214" y="521" width="21.5" height="21" rx="2"/><text class="bgt" x="2224.75" y="537.5">3</text></g>
<g id="panel-tool-c"><rect class="pg" x="2308" y="558" width="155" height="75"/>
<rect class="hd" x="2330" y="550" width="112" height="23"/><text class="ti" x="2386" y="563">Tool</text>
<rect class="box" x="2330" y="589" width="111" height="22"/><text class="t" x="2385" y="601.5">UCC</text></g>

<g id="unaware-risk-3"><rect class="grn" x="685" y="1165" width="32" height="225"/><text class="lab" transform="translate(701 1277) rotate(-90)" dy="6">Unaware of risk level</text><rect class="bgd" x="689" y="1136" width="24" height="24" rx="2"/><text class="bgt" x="701" y="1154">1</text></g>
<g id="panel-tool-d"><rect class="pg" x="783" y="1181" width="154" height="75"/>
<rect class="hd" x="804.5" y="1172" width="111.5" height="23.5"/><text class="ti" x="860" y="1185.5">Tool</text>
<rect class="box" x="804.5" y="1212" width="110.5" height="22"/><text class="t" x="860" y="1224.5">Self Assessment</text></g>

<g id="staying-b"><rect class="sal" x="688" y="1438" width="33" height="264"/><text class="lab" transform="translate(704.5 1570) rotate(-90)" dy="6">Reduce: Staying on track</text><rect class="bgd" x="689" y="1405" width="27" height="27" rx="2"/><text class="bgt" x="702.5" y="1424.5">2</text></g>
<g id="panel-staying-b">
<rect class="ps" x="746" y="1466" width="154" height="227"/>
<rect class="hd" x="767.5" y="1456" width="111" height="24"/><text class="t" x="823" y="1469.5">Staying on Track</text>
<rect class="box" x="767.5" y="1496" width="111" height="23"/><text class="t" x="823" y="1509">how to spot your triggers</text>
<rect class="box" x="767.5" y="1527" width="111" height="23"/><text class="t" x="823" y="1540">how to keep well</text>
<rect class="box" x="767.5" y="1559" width="111" height="22"/><text class="t" x="823" y="1571.5">Get active</text>
<rect class="box" x="767.5" y="1590" width="111" height="22.5"/><text class="t" x="823" y="1602.5">how to get things back on track after a slip up</text>
<rect class="box" x="767.5" y="1621" width="111" height="23"/><text class="t" x="823" y="1634">How to prevent alcohol related accidents</text>
<rect class="box" x="767.5" y="1652.5" width="111" height="22.5"/><text class="t" x="823" y="1665">Staying in control of your drinking</text>
<path d="M766 1523L870 1555" stroke="#333" stroke-width="1" fill="none"/>
<use href="#f" x="759.5" y="1496" width="19" height="21"/>
</g>
<g id="tables-staying" class="s36">
<path class="z" d="M953 1446H1162V1457H953ZM950 1492H1198V1504H950ZM950 1516H1198V1528H950ZM950 1545H1195V1558H950ZM953 1602H1201V1611H953ZM953 1622H1201V1631H953ZM948 1661H1200V1675H948ZM948 1686H1200V1699H948Z"/>
<path class="rule" d="M953 1445H1162M953 1457H1162M953 1467H1162M953 1476H1162M950 1491H1198M950 1504H1198M950 1515H1198M950 1528H1198M950 1544H1195M950 1558H1195M950 1568H1195M950 1578H1195M953 1601H1201M953 1611H1201M953 1621H1201M953 1631H1201M948 1660H1200M948 1675H1200M948 1685H1200M948 1699H1200"/>
<path class="ic" d="M1077 1448h2v2h-2zM1077 1460h2v2h-2zM1077 1470h2v2h-2zM1099 1495h2v2h-2zM1099 1509h2v2h-2zM1099 1520h2v2h-2zM1095 1548h2v2h-2zM1095 1562h2v2h-2zM1095 1572h2v2h-2zM1100 1605h2v2h-2zM1100 1615h2v2h-2zM1100 1625h2v2h-2zM1097 1665h2v2h-2zM1097 1679h2v2h-2zM1097 1690h2v2h-2z"/>
<text class="th" x="954" y="1443.5">Next Page Path</text><text class="th e" x="1120" y="1443.5">Page Views</text><text class="th e" x="1160" y="1443.5">% Page Views</text>
<text class="p" x="956" y="1450.5">/advice/i-need-advice-to-stop-my-drinking/how-to-stop-drinking-alcohol-complete</text><text class="p" x="956" y="1454.5">ly</text><text class="n" x="1120" y="1450.5">154</text><text class="n" x="1160" y="1450.5">14.40%</text>
<text class="p" x="955" y="1463">/advice/staying-safe-while-drinking/alcohol-and-safety</text><text class="n" x="1120" y="1463">120</text><text class="n" x="1160" y="1463">11.06%</text>
<text class="p" x="955" y="1472">/advice/i-need-advice-to-stop-my-drinking/what-to-expect-when-you-stop-drinki</text><text class="p" x="955" y="1476">ng</text><text class="n" x="1120" y="1472">100</text><text class="n" x="1160" y="1472">9.24%</text>
<rect class="hr" x="955" y="1447.5" width="161" height="8.5"/><rect class="hr" x="953" y="1458" width="162" height="10"/>
<text class="th" x="951" y="1488.5">Next Page Path</text><text class="th e" x="1149" y="1488.5">Page Views</text><text class="th e" x="1197" y="1488.5">% Page Views</text>
<text class="p" x="951" y="1496.5">/advice/how-to-reduce-your-drinking/drink-free-days/get-started/staying-in-cont</text><text class="p" x="951" y="1501">rol-of-your-drinking</text><text class="n" x="1149" y="1496.5">6</text><text class="n" x="1197" y="1496.5">18.75%</text>
<text class="p" x="951" y="1511.5">/advice/how-to-reduce-your-drinking/drink-free-days/get-started</text><text class="n" x="1149" y="1511.5">4</text><text class="n" x="1197" y="1511.5">12.50%</text>
<text class="p" x="951" y="1521.5">/advice/how-to-reduce-your-drinking/drink-free-days/get-started/ten-stress-bust</text><text class="p" x="951" y="1526">ing-tips-to-help-you-stick-to-your-drink-free-days</text><text class="n" x="1149" y="1521.5">4</text><text class="n" x="1197" y="1521.5">12.50%</text>
<text class="th" x="951" y="1541.5">Next Page Path</text><text class="th e" x="1146" y="1541.5">Page Views</text><text class="th e" x="1193" y="1541.5">% Page Views</text>
<text class="p" x="951" y="1550">/advice/i-need-advice-to-stop-my-drinking/how-to-stop-drinking-alcohol-complet</text><text class="p" x="951" y="1554.5">ely</text><text class="n" x="1146" y="1550">13</text><text class="n" x="1193" y="1550">33.33%</text>
<text class="p" x="951" y="1564.5">/tools/drink-free-days</text><text class="n" x="1146" y="1564.5">7</text><text class="n" x="1193" y="1564.5">17.95%</text>
<text class="p" x="951" y="1574.5">/facts/health-effects-of-alcohol/mental-health/alcoholism</text><text class="n" x="1146" y="1574.5">5</text><text class="n" x="1193" y="1574.5">9.26%</text>
<text class="th" x="954" y="1599.5">Next Page Path</text><text class="th e" x="1151" y="1599.5">Page Views</text><text class="th e" x="1199" y="1599.5">% Page Views</text>
<text class="p" x="954" y="1607.5">/advice/staying-safe-while-drinking</text><text class="n" x="1151" y="1607.5">6</text><text class="n" x="1199" y="1607.5">12.77%</text>
<text class="p" x="954" y="1617.5">/facts/drinking-habits-and-behaviours/binge-drinking</text><text class="n" x="1151" y="1617.5">5</text><text class="n" x="1199" y="1617.5">10.64%</text>
<text class="p" x="954" y="1627.5">/</text><text class="n" x="1151" y="1627.5">4</text><text class="n" x="1199" y="1627.5">8.51%</text>
<text class="th" x="949" y="1657.5">Next Page Path</text><text class="th e" x="1148" y="1657.5">Page Views</text><text class="th e" x="1196" y="1657.5">% Page Views</text>
<text class="p" x="949" y="1666">/advice/how-to-reduce-your-drinking/drink-free-days/get-started/ten-stress-bust</text><text class="p" x="949" y="1671">ing-tips-to-help-you-stick-to-your-drink-free-days</text><text class="n" x="1148" y="1666">10</text><text class="n" x="1196" y="1666">22.22%</text>
<text class="p" x="949" y="1681">/advice/how-to-stay-on-track</text><text class="n" x="1148" y="1681">9</text><text class="n" x="1196" y="1681">20.00%</text>
<text class="p" x="949" y="1691">/advice/how-to-reduce-your-drinking/drink-free-days/get-started/health-benefits</text><text class="p" x="949" y="1696">-of-drink-free-days</text><text class="n" x="1148" y="1691">6</text><text class="n" x="1196" y="1691">13.33%</text>
</g>

<g id="drinks-units"><rect class="yel" x="697.5" y="1784" width="28.5" height="168"/><text class="lab" style="font-size:17px" transform="translate(711.75 1868) rotate(-90)" dy="6">Drinks and units</text><rect class="bgd" x="700" y="1758" width="22" height="21" rx="2"/><text class="bgt" x="711" y="1774.5">3</text></g>
<g id="panel-drinks">
<rect class="py" x="763" y="1847" width="153" height="70"/>
<rect x="755" y="1795" width="169" height="52" rx="14" fill="#FFE986" stroke="#44401f" stroke-width="1.5"/><text x="839.5" y="1826" style="font-size:11.8px;text-anchor:middle;fill:#4a4420">Alcoholic drinks and units</text>
<rect class="box" x="791" y="1857" width="97" height="22"/><text class="t" x="839" y="1869.5">What is an alcohol unit</text>
<rect class="box" x="791" y="1884" width="97" height="22"/><text class="t" x="839" y="1896.5">Units and calories in alcoholic drinks</text>
<use href="#f" x="784.5" y="1856" width="19" height="21"/>
</g>
<g id="table-drinks" class="s22">
<path class="rule" d="M955 1828H1097M955 1840H1097M955 1847H1097M955 1854H1097M955 1861H1097M955 1868H1097M955 1875H1097M955 1882H1097M955 1892H1097M955 1899H1097M955 1908H1097"/>
<text class="th" x="956" y="1827">Next Page Path</text><text class="th e" x="1069" y="1827">Page Views</text><text class="th e" x="1096" y="1827">% Page Views</text>
<text class="p" x="956" y="1832.5">/facts/alcoholic-drinks-and-units/tracking-your-drinking/unit</text><text class="p" x="956" y="1836">s-calculator</text><text class="n" x="1069" y="1833">219</text><text class="n" x="1096" y="1833">16.86%</text>
<text class="p" x="956" y="1843.5">/facts/alcoholic-drinks-and-units</text><text class="n" x="1069" y="1843.5">122</text><text class="n" x="1096" y="1843.5">5.44%</text>
<text class="p" x="956" y="1850.5">/tools/drink-free-days-your-ultimate-guide</text><text class="n" x="1069" y="1850.5">113</text><text class="n" x="1096" y="1850.5">4.75%</text>
<text class="p" x="956" y="1857.5">/tools</text><text class="n" x="1069" y="1857.5">91</text><text class="n" x="1096" y="1857.5">3.94%</text>
<text class="p" x="956" y="1864.5">/advice/how-to-reduce-your-drinking/low-alcohol-drinks</text><text class="n" x="1069" y="1864.5">88</text><text class="n" x="1096" y="1864.5">4.40%</text>
<text class="p" x="956" y="1871.5">/facts/alcoholic-drinks-and-units/low-risk-drinking-guidelines</text><text class="n" x="1069" y="1871.5">83</text><text class="n" x="1096" y="1871.5">4.14%</text>
<text class="p" x="956" y="1878.5">/tools/self-assessment/user</text><text class="n" x="1069" y="1878.5">82</text><text class="n" x="1096" y="1878.5">4.10%</text>
<text class="p" x="956" y="1885.5">/advice/how-to-reduce-your-drinking/how-to-cut-down-on-alco</text><text class="p" x="956" y="1889">hol-at-home</text><text class="n" x="1069" y="1886">67</text><text class="n" x="1096" y="1886">3.70%</text>
<text class="p" x="956" y="1896">/</text><text class="n" x="1069" y="1896">47</text><text class="n" x="1096" y="1896">3.48%</text>
<text class="p" x="956" y="1903">/facts/alcoholic-drinks-and-units/what-is-an-alcohol-unit/un</text><text class="p" x="956" y="1906.5">its</text><text class="n" x="1069" y="1903">37</text><text class="n" x="1096" y="1903">2.86%</text>
<rect class="hr" x="954" y="1860" width="80" height="7.5" rx="2"/>
</g>

<g id="facts-danger"><rect class="yel" x="1366" y="1504" width="33" height="182"/><text class="lab" style="font-size:12.5px" transform="translate(1382.5 1595) rotate(-90)" dy="4.5">Facts: Alcohol Danger</text><rect class="bgd" x="1367" y="1477" width="27" height="27" rx="2"/><text class="bgt" x="1380.5" y="1496.5">2</text></g>
<g id="panel-danger">
<rect class="py" x="1421.5" y="1555" width="154.5" height="130"/>
<rect class="hd" x="1443" y="1547" width="112" height="23"/><text class="ti" x="1499" y="1560">Alcohol Danger</text>
<rect class="box" x="1443" y="1586" width="112" height="23"/><text class="t" x="1499" y="1595.5">Are spirits more dangerous than other</text><text class="t" x="1499" y="1602.5">alcoholic drinks</text>
<rect class="box" x="1443" y="1617" width="112" height="23"/><text class="t" x="1499" y="1630">The dangers of fake alcohol</text>
<rect class="box" x="1444" y="1649" width="111" height="22"/><text class="t" x="1499" y="1661.5">How much alcohol is too much</text>
<use href="#f" x="1435" y="1649" width="19" height="21"/>
</g>
<g id="tables-danger" class="s26">
<path class="rule" d="M1617 1559H1887M1617 1568H1887M1617 1576H1887M1617 1584H1887M1621 1604H1872M1621 1612H1872M1621 1620H1872M1621 1628H1872M1623 1650H1874M1623 1657H1874M1623 1665H1874M1623 1673H1874"/>
<path class="ic" d="M1778 1563h2v2h-2zM1778 1571h2v2h-2zM1778 1579h2v2h-2zM1771 1607h2v2h-2zM1771 1615h2v2h-2zM1771 1623h2v2h-2zM1771 1652h2v2h-2zM1771 1660h2v2h-2zM1771 1668h2v2h-2z"/>
<text class="th" x="1618" y="1557">Next Page Path</text><text class="th e" x="1834" y="1557">Page Views</text><text class="th e" x="1886" y="1557">% Page Views</text>
<text class="p" x="1619" y="1565">/advice/how-to-reduce-your-drinking/tracker/self-assessment/user/drinking</text><text class="n" x="1834" y="1565">19</text><text class="n" x="1886" y="1565">12.93%</text>
<text class="p" x="1619" y="1573">/tools/self-assessment</text><text class="n" x="1834" y="1573">13</text><text class="n" x="1886" y="1573">9.66%</text>
<text class="p" x="1619" y="1581">/advice/i-need-advice-to-stop-my-drinking/how-to-stop-drinking-alcohol-completely</text><text class="n" x="1834" y="1581">12</text><text class="n" x="1886" y="1581">8.27%</text>
<text class="th" x="1622" y="1602">Next Page Path</text><text class="th e" x="1822" y="1602">Page Views</text><text class="th e" x="1871" y="1602">% Page Views</text>
<text class="p" x="1623" y="1609">/advice/i-need-advice-to-stop-my-drinking/how-to-reduce-your-drinking-safely</text><text class="n" x="1822" y="1609">14</text><text class="n" x="1871" y="1609">11.48%</text>
<text class="p" x="1623" y="1617">/advice/i-need-advice-to-stop-my-drinking/how-to-reduce-your-drinking-at-home</text><text class="n" x="1822" y="1617">7</text><text class="n" x="1871" y="1617">11.29%</text>
<text class="p" x="1623" y="1625">/advice/staying-safe-while-drinking/how-to-reduce-harm-from-alcohol</text><text class="n" x="1822" y="1625">8</text><text class="n" x="1871" y="1625">9.26%</text>
<text class="th" x="1624" y="1647">Next Page Path</text><text class="th e" x="1822" y="1647">Page Views</text><text class="th e" x="1871" y="1647">% Page Views</text>
<text class="p" x="1626" y="1654">/tools/drink-free-days</text><text class="n" x="1822" y="1654">119</text><text class="n" x="1871" y="1654">11.11%</text>
<text class="p" x="1628" y="1661.5">/advice/i-need-advice-to-stop-my-drinking/what-to-expect-when-you-stop-drinking</text><text class="n" x="1822" y="1661.5">52</text><text class="n" x="1871" y="1661.5">7.14%</text>
<text class="p" x="1628" y="1669.5">/advice/i-need-advice-to-stop-my-drinking/how-to-reduce-your-drinking-at-home</text><text class="n" x="1822" y="1669.5">50</text><text class="n" x="1871" y="1669.5">5.46%</text>
<rect class="hg" x="1625" y="1647" width="198" height="9" rx="1"/><rect class="hr" x="1626" y="1657" width="198" height="7" rx="1"/><rect class="hr" x="1626" y="1665" width="198" height="8" rx="1"/>
</g>

<g id="unaware-unit-2"><rect class="grn" x="2023" y="1343" width="33" height="226"/><text class="lab uc" transform="translate(2039.5 1456) rotate(-90)" dy="6">Unaware of unit consumption</text><rect class="bgd" x="2027" y="1310.5" width="24" height="23.5" rx="2"/><text class="bgt" x="2039" y="1328.5">1</text></g>
<g id="panel-tool-e"><rect class="pg" x="2121" y="1360" width="154" height="75"/>
<rect class="hd" x="2143" y="1351" width="111" height="24"/><text class="ti" x="2198.5" y="1364.5">Tool</text>
<rect class="box" x="2143" y="1390" width="110" height="24"/><text class="t" x="2198" y="1403.5">UCC</text></g>

<g id="stop-drinking-2"><rect class="sal" x="2027" y="1703" width="32" height="170"/><text class="lab" transform="translate(2043 1788) rotate(-90)" dy="6">Stop Drinking</text><rect class="bgd" x="2027" y="1671" width="27" height="26" rx="2"/><text class="bgt" x="2040.5" y="1690">2</text></g>
<g id="panel-stop-2">
<rect class="ps" x="2100" y="1754" width="154" height="100"/>
<rect x="2093" y="1703" width="169" height="51" rx="14" fill="#FF9076" stroke="#5c3226" stroke-width="1.5"/><text class="big" x="2177" y="1725.5">Help to stop drinking</text><text class="big" x="2177" y="1742">completely</text>
<rect class="box" x="2121" y="1761" width="112" height="25"/><text class="t" x="2177" y="1775">how to stop drinking completely</text>
<rect class="box" x="2121" y="1790" width="112" height="25"/><text class="t" x="2177" y="1804">what to expect when you stop drinking</text>
<rect class="tbox" x="2121" y="1818" width="112" height="25"/><text class="t" x="2177" y="1832">Your complete guide to online peer support</text>
</g>
<g id="tables-stop-2" class="s30">
<rect class="yr" x="2284" y="1762" width="193" height="11"/>
<path class="rule" d="M2284 1753H2477M2284 1761H2477M2284 1773H2477M2284 1781H2477M2279 1794H2473M2279 1806H2473M2279 1814H2473M2279 1820H2473M2282 1834H2473M2282 1841H2473M2282 1849H2473M2282 1856H2473"/>
<path class="ic" d="M2399 1757h2v2h-2zM2401 1765h2v2h-2zM2399 1776h2v2h-2zM2394 1799h2v2h-2zM2394 1809h2v2h-2zM2394 1817h2v2h-2zM2395 1836h2v2h-2zM2395 1844h2v2h-2zM2395 1852h2v2h-2z"/>
<text class="th" x="2285" y="1752">Next Page Path</text><text class="th e" x="2438" y="1752">Page Views</text><text class="th e" x="2475" y="1752">% Page Views</text>
<text class="p" x="2285" y="1759">/tools/self-assessment</text><text class="n" x="2438" y="1759">2,284</text><text class="n" x="2475" y="1759">36.35%</text>
<text class="p" x="2285" y="1766.5">/advice/i-need-advice-to-stop-my-drinking/what-to-expect-when-you-stop-drinking/</text><text class="p" x="2285" y="1770.5">ing</text><text class="n" x="2438" y="1766.5">1,094</text><text class="n" x="2475" y="1766.5">16.17%</text>
<text class="p" x="2285" y="1778">/advice/how-to-stay-on-track/how-to-spot-your-triggers</text><text class="n" x="2438" y="1778">642</text><text class="n" x="2475" y="1778">10.30%</text>
<text class="th" x="2280" y="1793">Next Page Path</text><text class="th e" x="2433" y="1793">Page Views</text><text class="th e" x="2469" y="1793">% Page Views</text>
<text class="p" x="2280" y="1800">/advice/i-need-advice-to-stop-my-drinking/how-to-stop-drinking-alcohol-compl</text><text class="p" x="2280" y="1804">ete</text><text class="n" x="2433" y="1800">381</text><text class="n" x="2469" y="1800">22.96%</text>
<text class="p" x="2280" y="1811">/advice/how-to-stay-on-track/how-to-spot-your-triggers</text><text class="n" x="2433" y="1811">240</text><text class="n" x="2469" y="1811">14.78%</text>
<text class="p" x="2280" y="1819">/tools/self-assessment</text><text class="n" x="2433" y="1819">161</text><text class="n" x="2469" y="1819">10.10%</text>
<text class="th" x="2283" y="1832">Next Page Path</text><text class="th e" x="2434" y="1832">Page Views</text><text class="th e" x="2471" y="1832">% Page Views</text>
<text class="p" x="2283" y="1838.5">/advice/how-to-reduce-your-drinking/drink-free-days/get-started</text><text class="n" x="2434" y="1838.5">4</text><text class="n" x="2471" y="1838.5">20.00%</text>
<text class="p" x="2283" y="1846">/advice/how-to-reduce-your-drinking</text><text class="n" x="2434" y="1846">3</text><text class="n" x="2471" y="1846">15.00%</text>
<text class="p" x="2283" y="1854">/</text><text class="n" x="2434" y="1854">2</text><text class="n" x="2471" y="1854">10.00%</text>
<rect class="hg" x="2284" y="1755" width="163" height="5.5"/><rect class="hr" x="2284" y="1774" width="163" height="6"/>
</g>

<g id="staying-c"><rect class="sal" x="2023" y="2009" width="33" height="264"/><text class="lab" transform="translate(2039.5 2141) rotate(-90)" dy="6">Reduce: Staying on track</text><rect class="bgd" x="2031" y="1979" width="21" height="21" rx="2"/><text class="bgt" x="2041.5" y="1995.5">3</text></g>
<g id="panel-staying-c">
<rect class="ps" x="2081" y="2037" width="154" height="227"/>
<rect class="hd" x="2102" y="2028" width="112" height="22"/><text class="t" x="2158" y="2040.5">Staying on Track</text>
<rect class="box" x="2102" y="2067" width="112" height="22"/><text class="t" x="2158" y="2079.5">how to spot your triggers</text>
<rect class="box" x="2102" y="2098" width="112" height="23"/><text class="t" x="2158" y="2111">how to keep well</text>
<rect class="box" x="2102" y="2130" width="112" height="22"/><text class="t" x="2158" y="2142.5">Get active</text>
<rect class="box" x="2102" y="2161" width="112" height="22"/><text class="t" x="2158" y="2173.5">how to get things back on track after a slip up</text>
<rect class="box" x="2102" y="2192" width="112" height="23"/><text class="t" x="2158" y="2205">How to prevent alcohol related accidents</text>
<rect class="box" x="2102" y="2223" width="112" height="23"/><text class="t" x="2158" y="2236">Staying in control of your drinking</text>
<use href="#f" x="2095.5" y="2067" width="19" height="21"/>
</g>

<g id="connectors">
<path class="br" d="M557 641Q561 641 561 648V760Q561 767 566 767Q561 767 561 774V886Q561 893 557 893"/>
<path class="br" d="M563 1097Q568 1097 568 1104V1194Q568 1201 573 1201Q568 1201 568 1208V1299Q568 1306 563 1306"/>
<path class="br" d="M1088 419Q1093 419 1093 426V507Q1093 514 1098 514Q1093 514 1093 521V601Q1093 608 1088 608"/>
<path class="br" d="M1218 1482.5Q1223 1482.5 1223 1490V1580Q1223 1587 1228 1587Q1223 1587 1223 1594V1685Q1223 1692 1218 1692"/>
<path class="br" d="M1960 226Q1965 226 1965 233V361Q1965 368 1970 368Q1965 368 1965 375V502Q1965 509 1960 509"/>
<path class="br" d="M1898 1542Q1903 1542 1903 1549V1602Q1903 1609 1908 1609Q1903 1609 1903 1616V1670Q1903 1677 1898 1677"/>
<path class="c" d="M259 718C285 718 280 676 306 676"/>
<path class="c" d="M259 750C280 750 285 731 306 731"/>
<path class="c" d="M260 781C280 781 290 790 308 790"/>
<path class="c" d="M260 813C285 813 285 853 308 853"/>
<path class="c" d="M261 1164C290 1164 285 1119 315 1119"/>
<path class="c" d="M261 1195C285 1195 290 1182 315 1182"/>
<path class="c" d="M262 1227C285 1227 295 1232 315 1232"/>
<path class="c" d="M262 1258C290 1258 295 1285 323 1285"/>
<path class="c" d="M569 767C650 767 630 500 709 500"/>
<path class="c" d="M569 767H709"/>
<path class="c" d="M569 767C650 767 630 979 709 979"/>
<path class="c" d="M884 469H940"/>
<path class="c" d="M884 500H940"/>
<path class="c" d="M885 532L942 527"/>
<path class="c" d="M885 563C910 563 920 555 944 555"/>
<path class="c" d="M884 594C910 594 920 581 945 581"/>
<path class="c" d="M916 753C935 753 940 743 962 743"/>
<path class="c" d="M916 782L958 784"/>
<path class="c" d="M916 810C935 810 940 823 962 823"/>
<path class="c" d="M1101 514C1240 514 1230 355 1368 355"/>
<path class="c" d="M1101 514C1250 514 1225 608 1366 608"/>
<path class="c" d="M1101 514C1280 514 1180 909 1367 909"/>
<path class="c" d="M1557 282C1620 282 1615 240 1676 240"/>
<path class="c" d="M1557 312C1620 312 1615 288 1676 288"/>
<path class="c" d="M1557 344.5C1610 344.5 1625 340 1676 340"/>
<path class="c" d="M1557 376C1620 376 1620 388 1676 388"/>
<path class="c" d="M1557 408C1620 408 1620 438 1678 438"/>
<path class="c" d="M1557 440C1620 440 1620 488 1678 488"/>
<path class="c" d="M1399 608C1435 608 1430 548 1464 548"/>
<path class="c" d="M1975 368C2110 368 2090 152 2211 152"/>
<path class="c" d="M1975 368C2090 368 2110 403 2211 403"/>
<path class="c" d="M1975 368C2110 368 2090 655 2211 655"/>
<path class="c" d="M2242 152C2275 152 2270 92.5 2308 92.5"/>
<path class="c" d="M2242 655C2275 655 2270 595 2308 595"/>
<path class="c" d="M575 1201C615 1201 625 1277 685 1277"/>
<path class="c" d="M575 1201C610 1201 640 1230 638 1290C636 1360 620 1420 620 1480C620 1530 645 1569 688 1569"/>
<path class="c" d="M575 1201C625 1201 672 1225 670.5 1312C669 1400 605 1650 597 1750C592 1830 640 1868 697 1868"/>
<path class="c" d="M717 1277C750 1277 745 1218 783 1218"/>
<path class="c" d="M878.5 1507C915 1507 910 1458 947 1458"/>
<path class="c" d="M878.5 1570C915 1570 905 1507 943.5 1507"/>
<path class="c" d="M878.5 1601C915 1601 910 1557 947 1557"/>
<path class="c" d="M879 1632.5C910 1632.5 915 1612 947 1612"/>
<path class="c" d="M879 1664C910 1664 910 1677 943.5 1677"/>
<path class="c" d="M1232 1587C1290 1587 1310 1595 1366 1595"/>
<path class="c" d="M1555 1597C1585 1597 1580 1568 1612 1568"/>
<path class="c" d="M1555 1628C1580 1628 1590 1613 1615 1613"/>
<path class="c" d="M1555 1660L1622 1658"/>
<path class="c" d="M1911 1609C1965 1609 1960 1456 2023 1456"/>
<path class="c" d="M1911 1609C1975 1609 1960 1788 2027 1788"/>
<path class="c" d="M1911 1609C1990 1609 1975 1700 1965 1800C1950 1950 1930 2141 2023 2141"/>
<path class="c" d="M2056 1456C2090 1456 2085 1397 2121 1397"/>
<path class="c" d="M2233 1774C2250 1774 2255 1764 2279 1764"/>
<path class="c" d="M2233 1802L2275 1805"/>
<path class="c" d="M2233 1831C2255 1831 2255 1844 2279 1844"/>
</g>
</svg>
